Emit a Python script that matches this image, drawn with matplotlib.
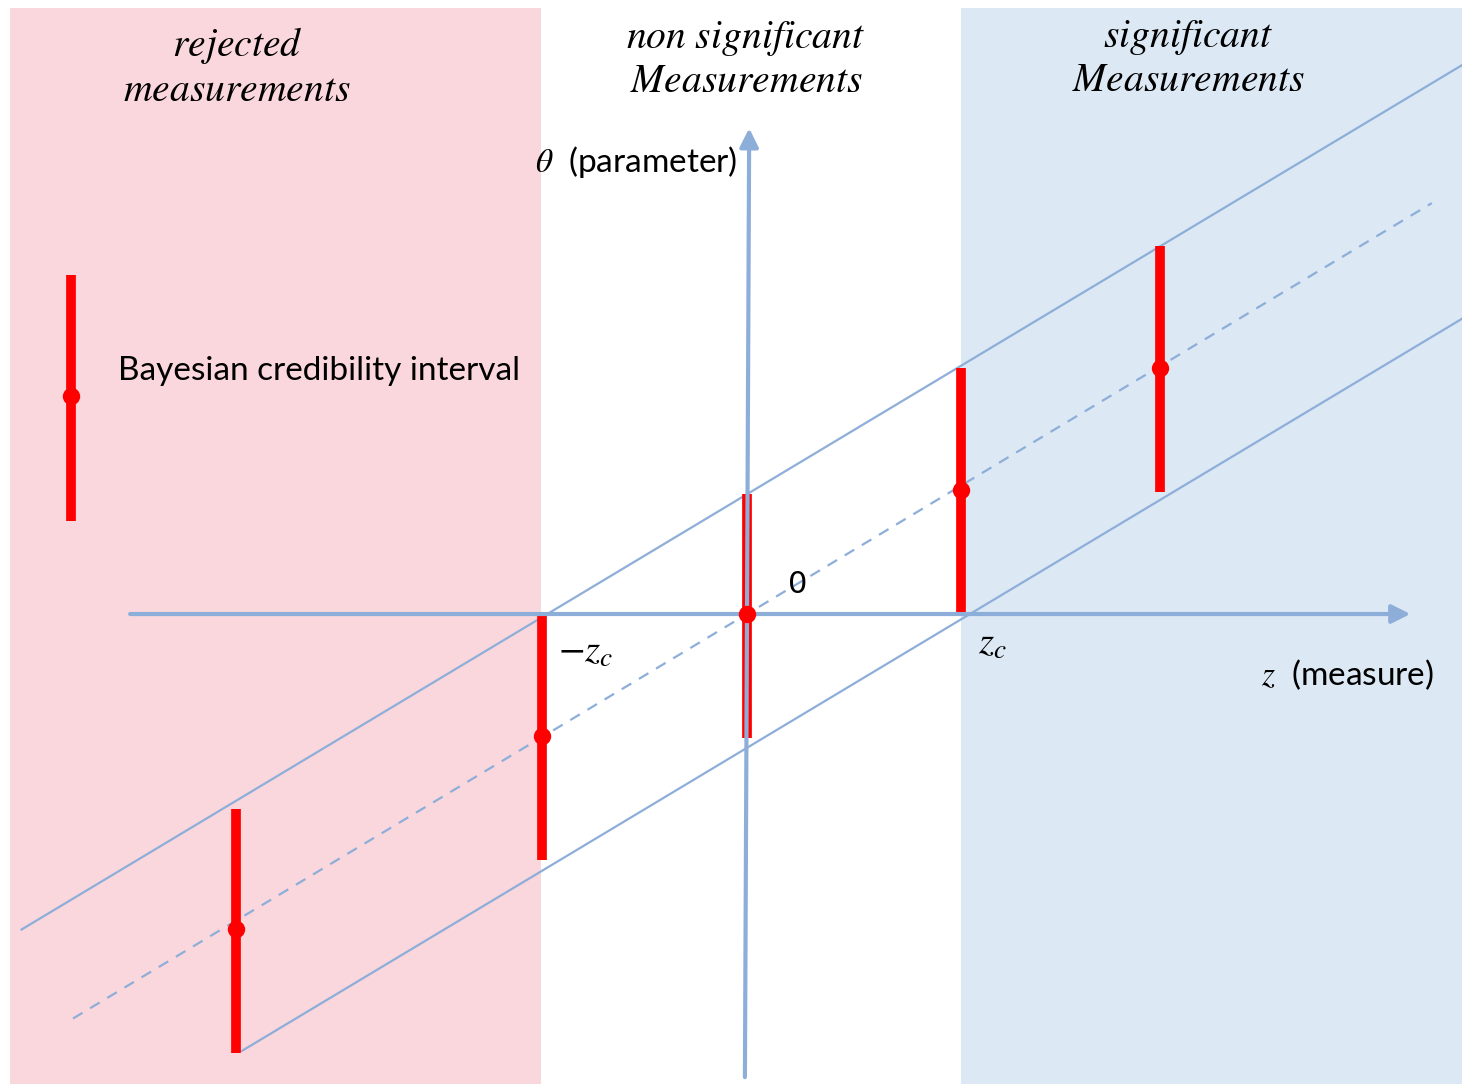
import matplotlib
matplotlib.use("Agg")
import matplotlib.pyplot as plt
import numpy as np

plt.rcParams['mathtext.fontset'] = 'stix'
plt.rcParams['font.family'] = ['Lato', 'DejaVu Sans']

# measurements z and their credibility intervals on theta (units of z_c)
z_meas = [-2.39, -0.96, 0.0, 1.0, 1.93]
theta_hat = [-1.47, -0.57, 0.0, 0.58, 1.15]
theta_lo = [-2.05, -1.15, -0.58, 0.0, 0.57]
theta_hi = [-0.91, 0.0, 0.56, 1.15, 1.72]

# sample interval used as a key
key_z = -3.16
key_hat, key_lo, key_hi = 1.02, 0.435, 1.585

# theta = slope * z + offset for the band edges and the centre line
slope = 0.6
band_offsets = [0.56, 0.0, -0.625]
band_zspan = [(-3.39, 3.35), (-3.15, 3.20), (-2.36, 3.35)]
band_styles = ['-', '--', '-']

# critical value of z, left and right edges of the regions
zc_left, zc_right = -0.963, 1.0

axis_col = '#8EAEDA'
line_col = '#8EAEDA'
red = '#FF0000'

fig = plt.figure(figsize=(14.62, 10.84), dpi=100)
ax = fig.add_axes([0, 0, 1, 1])
ax.set_xlim(-3.491, 3.341)
ax.set_ylim(-2.196, 2.869)
ax.axis('off')

# shaded regions
ax.axvspan(-3.444, zc_left, ymin=0.0, ymax=1 - 8 / 1084, color='#FAD7DC', lw=0, zorder=0)
ax.axvspan(zc_right, 3.341, ymin=0.0, ymax=1 - 8 / 1084, color='#DCE8F4', lw=0, zorder=0)

# band lines
for off, (z0, z1), ls in zip(band_offsets, band_zspan, band_styles):
    zz = np.array([z0, z1])
    ax.plot(zz, slope * zz + off, ls=ls, color=line_col, lw=1.6,
            dashes=(5, 4) if ls == '--' else (None, None), zorder=2)

# credibility intervals
for z, lo, hi in zip(z_meas, theta_lo, theta_hi):
    ax.plot([z, z], [lo, hi], color=red, lw=7, solid_capstyle='butt', zorder=3)

# coordinate axes
ax.annotate('', xy=(3.10, 0), xytext=(-2.883, 0),
            arrowprops=dict(arrowstyle='-|>', color=axis_col, lw=3,
                            mutation_scale=28, shrinkA=0, shrinkB=0), zorder=4)
ax.annotate('', xy=(0.01, 2.27), xytext=(-0.01, -2.164),
            arrowprops=dict(arrowstyle='-|>', color=axis_col, lw=3,
                            mutation_scale=28, shrinkA=0, shrinkB=0), zorder=4)

# point estimates
ax.plot(z_meas, theta_hat, 'o', color=red, ms=11.5, zorder=5)

# key
ax.plot([key_z, key_z], [key_lo, key_hi], color=red, lw=7, solid_capstyle='butt', zorder=3)
ax.plot([key_z], [key_hat], 'o', color=red, ms=11.5, zorder=5)
ax.text(-2.939, 1.136, 'Bayesian credibility interval', fontsize=24, ha='left', va='center')

# region titles
title_kw = dict(fontsize=28.5, ha='center', va='center', multialignment='center',
                linespacing=1.15)
ax.text(-2.383, 2.558, '$rejected$\n$measurements$', **title_kw)
ax.text(-0.005, 2.593, '$non\\ significant$\n$Measurements$', **title_kw)
ax.text(2.061, 2.598, '$significant$\n$Measurements$', **title_kw)

# axis labels
ax.text(-0.047, 2.112, r'$\theta$  (parameter)', fontsize=24, ha='right', va='center')
ax.text(3.210, -0.285, r'$z$  (measure)', fontsize=24, ha='right', va='center')
ax.text(0.238, 0.136, '0', fontsize=22, ha='center', va='center', family='DejaVu Sans')
ax.text(-0.752, -0.173, r'$-z_c$', fontsize=28, ha='center', va='center')
ax.text(1.145, -0.136, r'$z_c$', fontsize=28, ha='center', va='center')

fig.savefig('out.png', dpi=100)
plt.close(fig)
